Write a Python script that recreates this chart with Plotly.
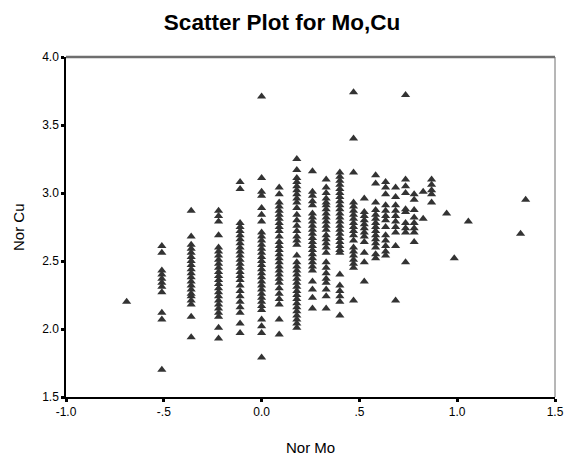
import plotly.graph_objects as go

# Nor Mo column positions (x) and Nor Cu values (y) in each column
mo_levels = [-0.69, -0.51, -0.36, -0.22, -0.11, 0.0, 0.09, 0.18, 0.26, 0.33,
             0.40, 0.47, 0.525, 0.583, 0.634, 0.685, 0.736, 0.78, 0.826,
             0.869, 0.946, 0.985, 1.057, 1.324, 1.35]

cu_m069 = [2.20]
cu_m051 = [2.61, 2.56, 2.43, 2.40, 2.37, 2.34, 2.31, 2.27, 2.12, 2.07, 1.70]
cu_m036 = [2.87, 2.68, 2.62, 2.59, 2.56, 2.53, 2.50, 2.47, 2.44, 2.41, 2.38,
           2.35, 2.32, 2.29, 2.26, 2.24, 2.21, 2.18, 2.09, 1.94]
cu_m022 = [2.87, 2.83, 2.79, 2.69, 2.60, 2.57, 2.54, 2.51, 2.48, 2.45, 2.42,
           2.39, 2.36, 2.33, 2.30, 2.27, 2.24, 2.21, 2.18, 2.15, 2.12, 2.09,
           2.01, 1.93]
cu_m011 = [3.08, 3.03, 2.78, 2.75, 2.72, 2.69, 2.66, 2.63, 2.60, 2.57, 2.54,
           2.51, 2.48, 2.45, 2.42, 2.39, 2.36, 2.32, 2.28, 2.24, 2.20, 2.16,
           2.12, 2.04, 1.97]
cu_p000 = [3.71, 3.11, 3.01, 2.98, 2.89, 2.84, 2.79, 2.71, 2.68, 2.65, 2.62,
           2.59, 2.56, 2.53, 2.50, 2.47, 2.44, 2.41, 2.38, 2.35, 2.32, 2.29,
           2.26, 2.23, 2.20, 2.17, 2.14, 2.07, 2.02, 1.97, 1.79]
cu_p009 = [3.04, 2.99, 2.93, 2.90, 2.87, 2.84, 2.81, 2.78, 2.75, 2.72, 2.68,
           2.64, 2.61, 2.58, 2.55, 2.52, 2.49, 2.46, 2.43, 2.40, 2.37, 2.34,
           2.30, 2.26, 2.22, 2.18, 2.07, 1.96]
cu_p018 = [3.25, 3.17, 3.11, 3.08, 3.05, 3.02, 2.99, 2.96, 2.93, 2.89, 2.84,
           2.80, 2.76, 2.72, 2.68, 2.65, 2.62, 2.54, 2.49, 2.46, 2.43, 2.40,
           2.37, 2.34, 2.31, 2.28, 2.25, 2.22, 2.19, 2.16, 2.13, 2.10, 2.07,
           2.04, 2.01]
cu_p026 = [3.16, 3.01, 2.98, 2.94, 2.91, 2.85, 2.82, 2.79, 2.76, 2.73, 2.70,
           2.67, 2.64, 2.61, 2.58, 2.55, 2.52, 2.49, 2.46, 2.43, 2.35, 2.29,
           2.23, 2.15]
cu_p033 = [3.10, 3.04, 3.00, 2.96, 2.93, 2.91, 2.88, 2.85, 2.82, 2.79, 2.76,
           2.73, 2.69, 2.66, 2.63, 2.60, 2.56, 2.49, 2.45, 2.41, 2.37, 2.34,
           2.29, 2.24, 2.15]
cu_p040 = [3.15, 3.12, 3.09, 3.06, 3.03, 3.00, 2.97, 2.94, 2.91, 2.88, 2.85,
           2.82, 2.79, 2.76, 2.73, 2.70, 2.67, 2.64, 2.61, 2.58, 2.56, 2.40,
           2.32, 2.28, 2.24, 2.20, 2.10]
cu_p047 = [3.74, 3.40, 3.15, 2.93, 2.90, 2.87, 2.84, 2.81, 2.78, 2.75, 2.72,
           2.69, 2.65, 2.60, 2.57, 2.54, 2.51, 2.48, 2.45, 2.21]
cu_p053 = [2.96, 2.86, 2.83, 2.80, 2.77, 2.74, 2.71, 2.68, 2.64, 2.56, 2.49,
           2.35]
cu_p058 = [3.13, 3.07, 2.93, 2.875, 2.84, 2.81, 2.78, 2.75, 2.72, 2.69, 2.66,
           2.63, 2.60, 2.55, 2.52]
cu_p063 = [3.08, 3.04, 2.99, 2.91, 2.87, 2.83, 2.80, 2.75, 2.69, 2.65, 2.61,
           2.57, 2.54]
cu_p069 = [3.04, 2.97, 2.91, 2.87, 2.83, 2.79, 2.75, 2.71, 2.61, 2.21]
cu_p074 = [3.72, 3.10, 3.05, 3.00, 2.88, 2.86, 2.78, 2.74, 2.71, 2.49]
cu_p078 = [2.99, 2.95, 2.875, 2.82, 2.78, 2.74, 2.71, 2.64]
cu_p083 = [3.01, 2.81]
cu_p087 = [3.10, 3.06, 3.02, 2.99, 2.93]
cu_p095 = [2.85]
cu_p099 = [2.52]
cu_p106 = [2.79]
cu_p132 = [2.70]
cu_p135 = [2.95]

cu_columns = [cu_m069, cu_m051, cu_m036, cu_m022, cu_m011, cu_p000, cu_p009,
              cu_p018, cu_p026, cu_p033, cu_p040, cu_p047, cu_p053, cu_p058,
              cu_p063, cu_p069, cu_p074, cu_p078, cu_p083, cu_p087, cu_p095,
              cu_p099, cu_p106, cu_p132, cu_p135]

x_tick_vals = [-1.0, -0.5, 0.0, 0.5, 1.0, 1.5]
x_tick_text = ["-1.0", "-.5", "0.0", ".5", "1.0", "1.5"]
y_tick_vals = [1.5, 2.0, 2.5, 3.0, 3.5, 4.0]
y_tick_text = ["1.5", "2.0", "2.5", "3.0", "3.5", "4.0"]

nor_mo = []
nor_cu = []
for xv, col in zip(mo_levels, cu_columns):
    for yv in col:
        nor_mo.append(xv)
        nor_cu.append(yv)

FONT = "Liberation Sans, Arial, sans-serif"

fig = go.Figure()
fig.add_trace(go.Scatter(
    x=nor_mo, y=nor_cu, mode="markers",
    marker=dict(symbol="triangle-up", size=8, color="#333333",
                line=dict(width=0)),
    hoverinfo="x+y", showlegend=False,
))

fig.update_layout(
    width=564, height=459,
    margin=dict(l=66, r=9, t=57, b=62, autoexpand=False),
    paper_bgcolor="white", plot_bgcolor="white",
    font=dict(family=FONT, size=12, color="black"),
    title=dict(text="<b>Scatter Plot for Mo,Cu</b>", x=0.5, xanchor="center",
               xref="container", y=1 - 22 / 459, yref="container",
               yanchor="middle",
               font=dict(family=FONT, size=22.5, color="black")),
    xaxis=dict(range=[-1.0, 1.5], tickvals=x_tick_vals, ticktext=x_tick_text,
               automargin=False,
               showgrid=False, zeroline=False, showline=True, linecolor="black",
               linewidth=1.5, ticks="outside", ticklen=3, tickwidth=3,
               tickcolor="black", tickfont=dict(size=12, color="black")),
    yaxis=dict(range=[1.5, 4.0], tickvals=y_tick_vals, ticktext=y_tick_text,
               automargin=False,
               showgrid=False, zeroline=False, showline=True, linecolor="black",
               linewidth=1.5, ticks="outside", ticklen=3, tickwidth=3,
               tickcolor="black", tickfont=dict(size=12, color="black")),
    shapes=[
        dict(type="line", xref="paper", yref="paper", x0=0, x1=1, y0=1, y1=1,
             line=dict(color="#6e6e6e", width=2.5)),
        dict(type="line", xref="paper", yref="paper", x0=1, x1=1, y0=0, y1=1,
             line=dict(color="#6e6e6e", width=1)),
    ],
    annotations=[
        dict(text="Nor Cu", xref="paper", yref="paper", x=(18 - 66) / 489,
             y=0.5, textangle=-90, showarrow=False,
             font=dict(family=FONT, size=15, color="black"),
             xanchor="center", yanchor="middle"),
        dict(text="Nor Mo", xref="paper", yref="paper", x=0.5,
             y=(397 - 447) / 340, showarrow=False,
             font=dict(family=FONT, size=15, color="black"),
             xanchor="center", yanchor="middle"),
    ],
)

fig.write_html("out.html", config={"displayModeBar": False},
               post_script="document.body.style.margin='0';"
                           "document.body.style.overflow='hidden';")
